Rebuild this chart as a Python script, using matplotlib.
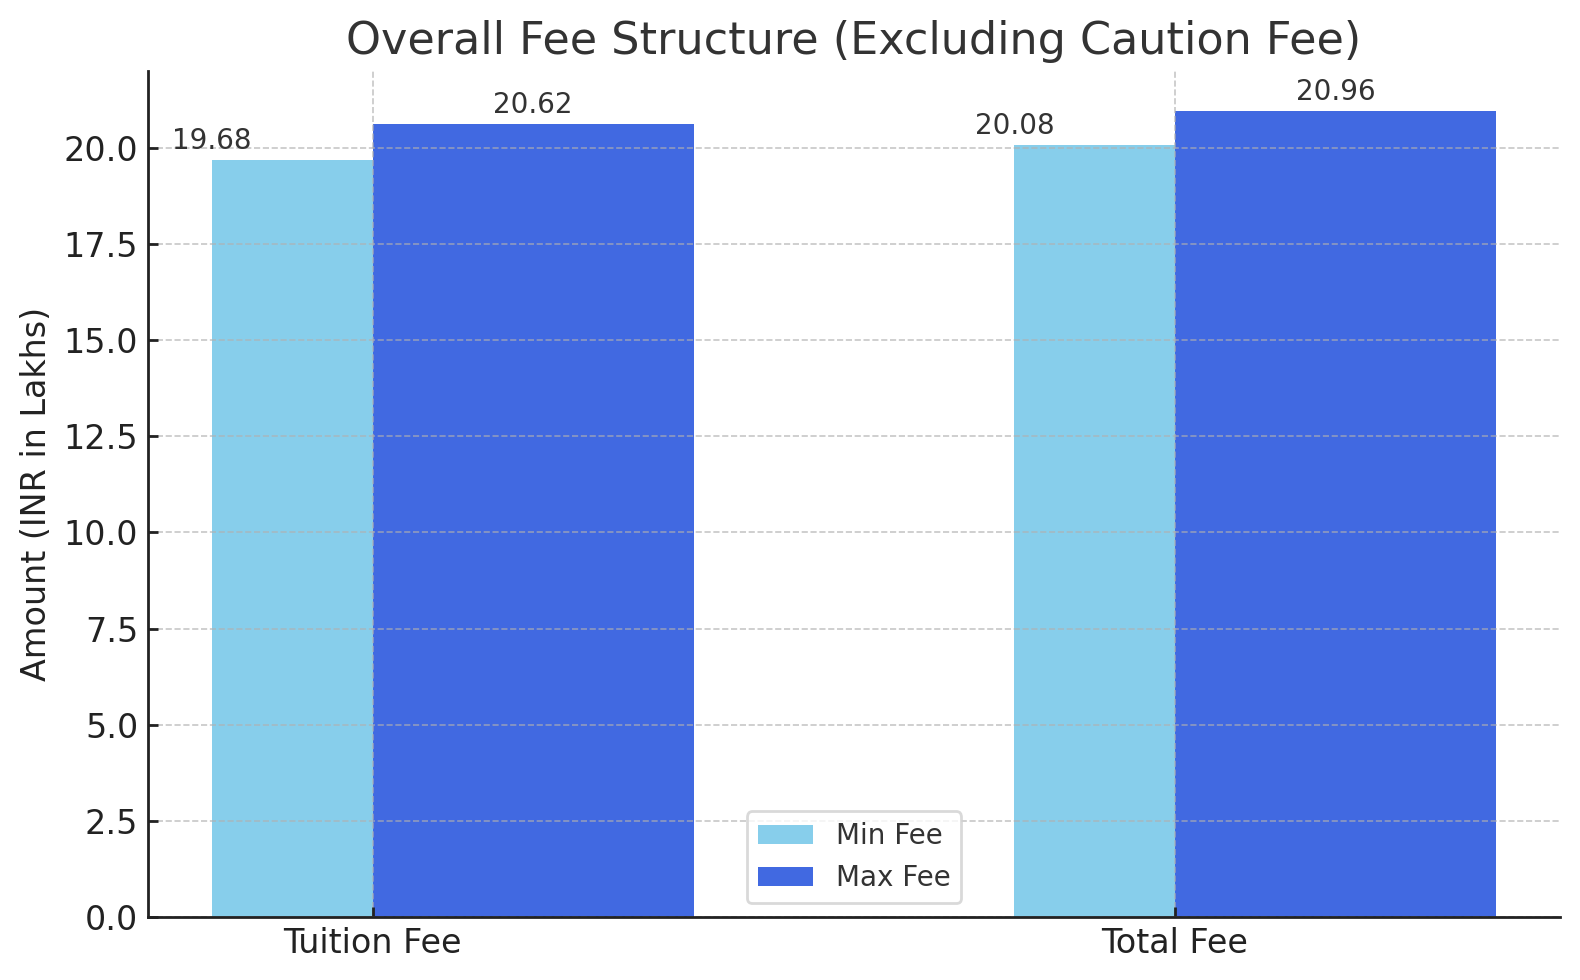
import matplotlib.pyplot as plt
import numpy as np

# data
categories = ["Tuition Fee", "Total Fee"]
min_fee = [19.68, 20.08]
max_fee = [20.62, 20.96]

x = np.arange(len(categories))

fig, ax = plt.subplots(figsize=(7.9, 4.9), dpi=200)
fig.subplots_adjust(left=0.0937, right=0.9873, top=0.928, bottom=0.0643)

ax.bar(x, min_fee, width=-0.2, align="edge", color="skyblue", label="Min Fee")
ax.bar(x, max_fee, width=0.4, align="edge", color="royalblue", label="Max Fee")

# valeurs au-dessus des barres
for i in range(len(categories)):
    ax.text(x[i] - 0.2, min_fee[i] + 0.12, f"{min_fee[i]:.2f}",
            ha="center", va="bottom", fontsize=10, color="#333333")
    ax.text(x[i] + 0.2, max_fee[i] + 0.12, f"{max_fee[i]:.2f}",
            ha="center", va="bottom", fontsize=10, color="#333333")

ax.set_title("Overall Fee Structure (Excluding Caution Fee)", fontsize=16, color="#333333")
ax.set_ylabel("Amount (INR in Lakhs)", fontsize=12, color="#222222")
ax.set_xticks(x)
ax.set_xticklabels(categories, fontsize=12, color="#222222")
ax.tick_params(axis="y", labelsize=12, labelcolor="#222222")
ax.tick_params(direction="in", length=3.5, width=1.0, color="#222222")

ax.grid(True, linestyle="--", linewidth=0.6, color="#b0b0b0", alpha=0.7)
for s in ["top", "right"]:
    ax.spines[s].set_visible(False)
for s in ["left", "bottom"]:
    ax.spines[s].set_color("#222222")
    ax.spines[s].set_linewidth(1.0)

leg = ax.legend(loc="lower center", fontsize=10, frameon=True)
leg.get_frame().set_edgecolor("#d0d0d0")
for t in leg.get_texts():
    t.set_color("#333333")

plt.savefig("out.png", dpi=200)
